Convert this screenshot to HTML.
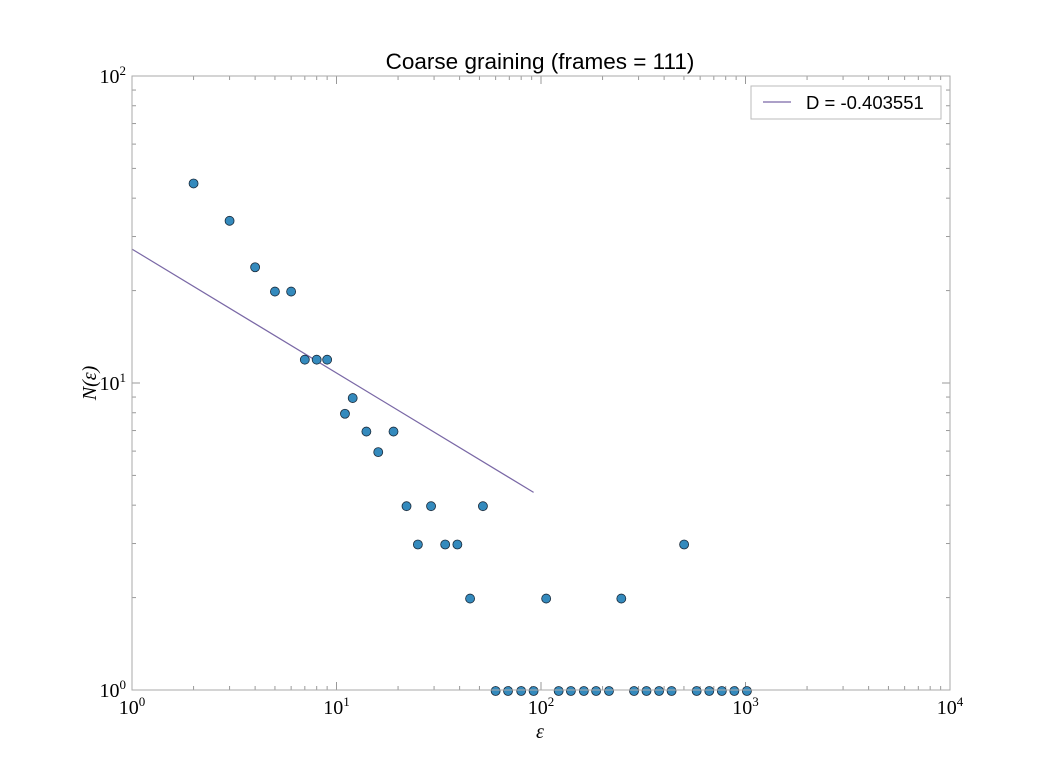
<!DOCTYPE html>
<html><head><meta charset="utf-8"><style>
body{margin:0;background:#fff;width:1056px;height:768px;overflow:hidden}
svg text{font-family:"Liberation Serif",serif}
</style></head><body>
<svg id="c" width="1056" height="768">
<rect width="1056" height="768" fill="#fff"/>
<text x="540" y="69" text-anchor="middle" font-size="22.5" style="font-family:'Liberation Sans',sans-serif">Coarse graining (frames = 111)</text>
<g id="ax"></g>
<g id="marks"></g>
<rect x="132" y="76" width="818" height="614" fill="none" stroke="#aaa" stroke-width="1"/>
<g>
<rect x="751" y="86" width="190" height="33" fill="#fff" stroke="#bbb"/>
<line x1="763" y1="102" x2="791" y2="102" stroke="#7a68a6" stroke-width="1.2"/>
<text x="806" y="109" font-size="18.5" style="font-family:'Liberation Sans',sans-serif">D = -0.403551</text>
</g>
<text x="540" y="738" text-anchor="middle" font-size="20" font-style="italic">ε</text>
<text transform="translate(96,383) rotate(-90)" text-anchor="middle" font-size="20" font-style="italic">N(ε)</text>
</svg>
<script>
const xs=[2,3,4,5,6,7,8,9,11,12,14,16,19,22,25,29,34,39,45,52,60,69,80,92,106,122,140,162,186,215,247,285,328,378,435,501,577,665,766,882,1016];
const ys=[45,34,24,20,20,12,12,12,8,9,7,6,7,4,3,4,3,3,2,4,1,1,1,1,2,1,1,1,1,1,2,1,1,1,1,3,1,1,1,1,1];
const slope=-0.403551;
const intercept=27.3;
const fitRange=[1,92];
const xTicks=[0,1,2,3,4];
const yTicks=[0,1,2];
const X0=132,X1=950,Y0=690,Y1=76;
const sx=v=>X0+(Math.log10(v)-0)/4*(X1-X0);
const sy=v=>Y0-(Math.log10(v)-0)/2*(Y0-Y1);
const NS="http://www.w3.org/2000/svg";
const ax=document.getElementById('ax'),mk=document.getElementById('marks');
function el(t,a,p){const e=document.createElementNS(NS,t);for(const k in a)e.setAttribute(k,a[k]);p.appendChild(e);return e;}
for(let d=0;d<4;d++)for(let m=1;m<10;m++){const v=Math.pow(10,d)*m;const x=sx(v);const L=m==1?8:4;
const t1=el('line',{x1:x,y1:Y0,x2:x,y2:Y0-L,stroke:'#999'},ax);


el('line',{x1:x,y1:Y1,x2:x,y2:Y1+L,stroke:'#999'},ax);}
for(const d of xTicks){const t=el('text',{x:sx(Math.pow(10,d)),y:Y0+24,'text-anchor':'middle','font-size':'20'},ax);


t.innerHTML='10<tspan dy="-8" font-size="13">'+d+'</tspan>';
el('line',{x1:sx(Math.pow(10,d)),y1:Y0,x2:sx(Math.pow(10,d)),y2:Y0-8,stroke:'#999'},ax);}
for(let d=0;d<2;d++)for(let m=1;m<10;m++){const v=Math.pow(10,d)*m;const y=sy(v);const L=m==1?8:4;
const t1=el('line',{x1:X0,y1:y,x2:X0+L,y2:y,stroke:'#999'},ax);


el('line',{x1:X1,y1:y,x2:X1-L,y2:y,stroke:'#999'},ax);}
for(const d of yTicks){const t=el('text',{x:X0-6,y:sy(Math.pow(10,d))+7,'text-anchor':'end','font-size':'20'},ax);


t.innerHTML='10<tspan dy="-8" font-size="13">'+d+'</tspan>';}
const f=x=>intercept*Math.pow(x,slope);
const ln=el('line',{x1:sx(fitRange[0]),y1:sy(f(fitRange[0])),x2:sx(fitRange[1]),y2:sy(f(fitRange[1])),stroke:'#7a68a6','stroke-width':1.2},mk);


xs.forEach((x,i)=>{const c=el('circle',{cx:sx(x),cy:sy(ys[i])+1,r:4.5,fill:'#348abd',stroke:'#1a2a3a','stroke-width':0.8},mk);

});
</script>
</body></html>
